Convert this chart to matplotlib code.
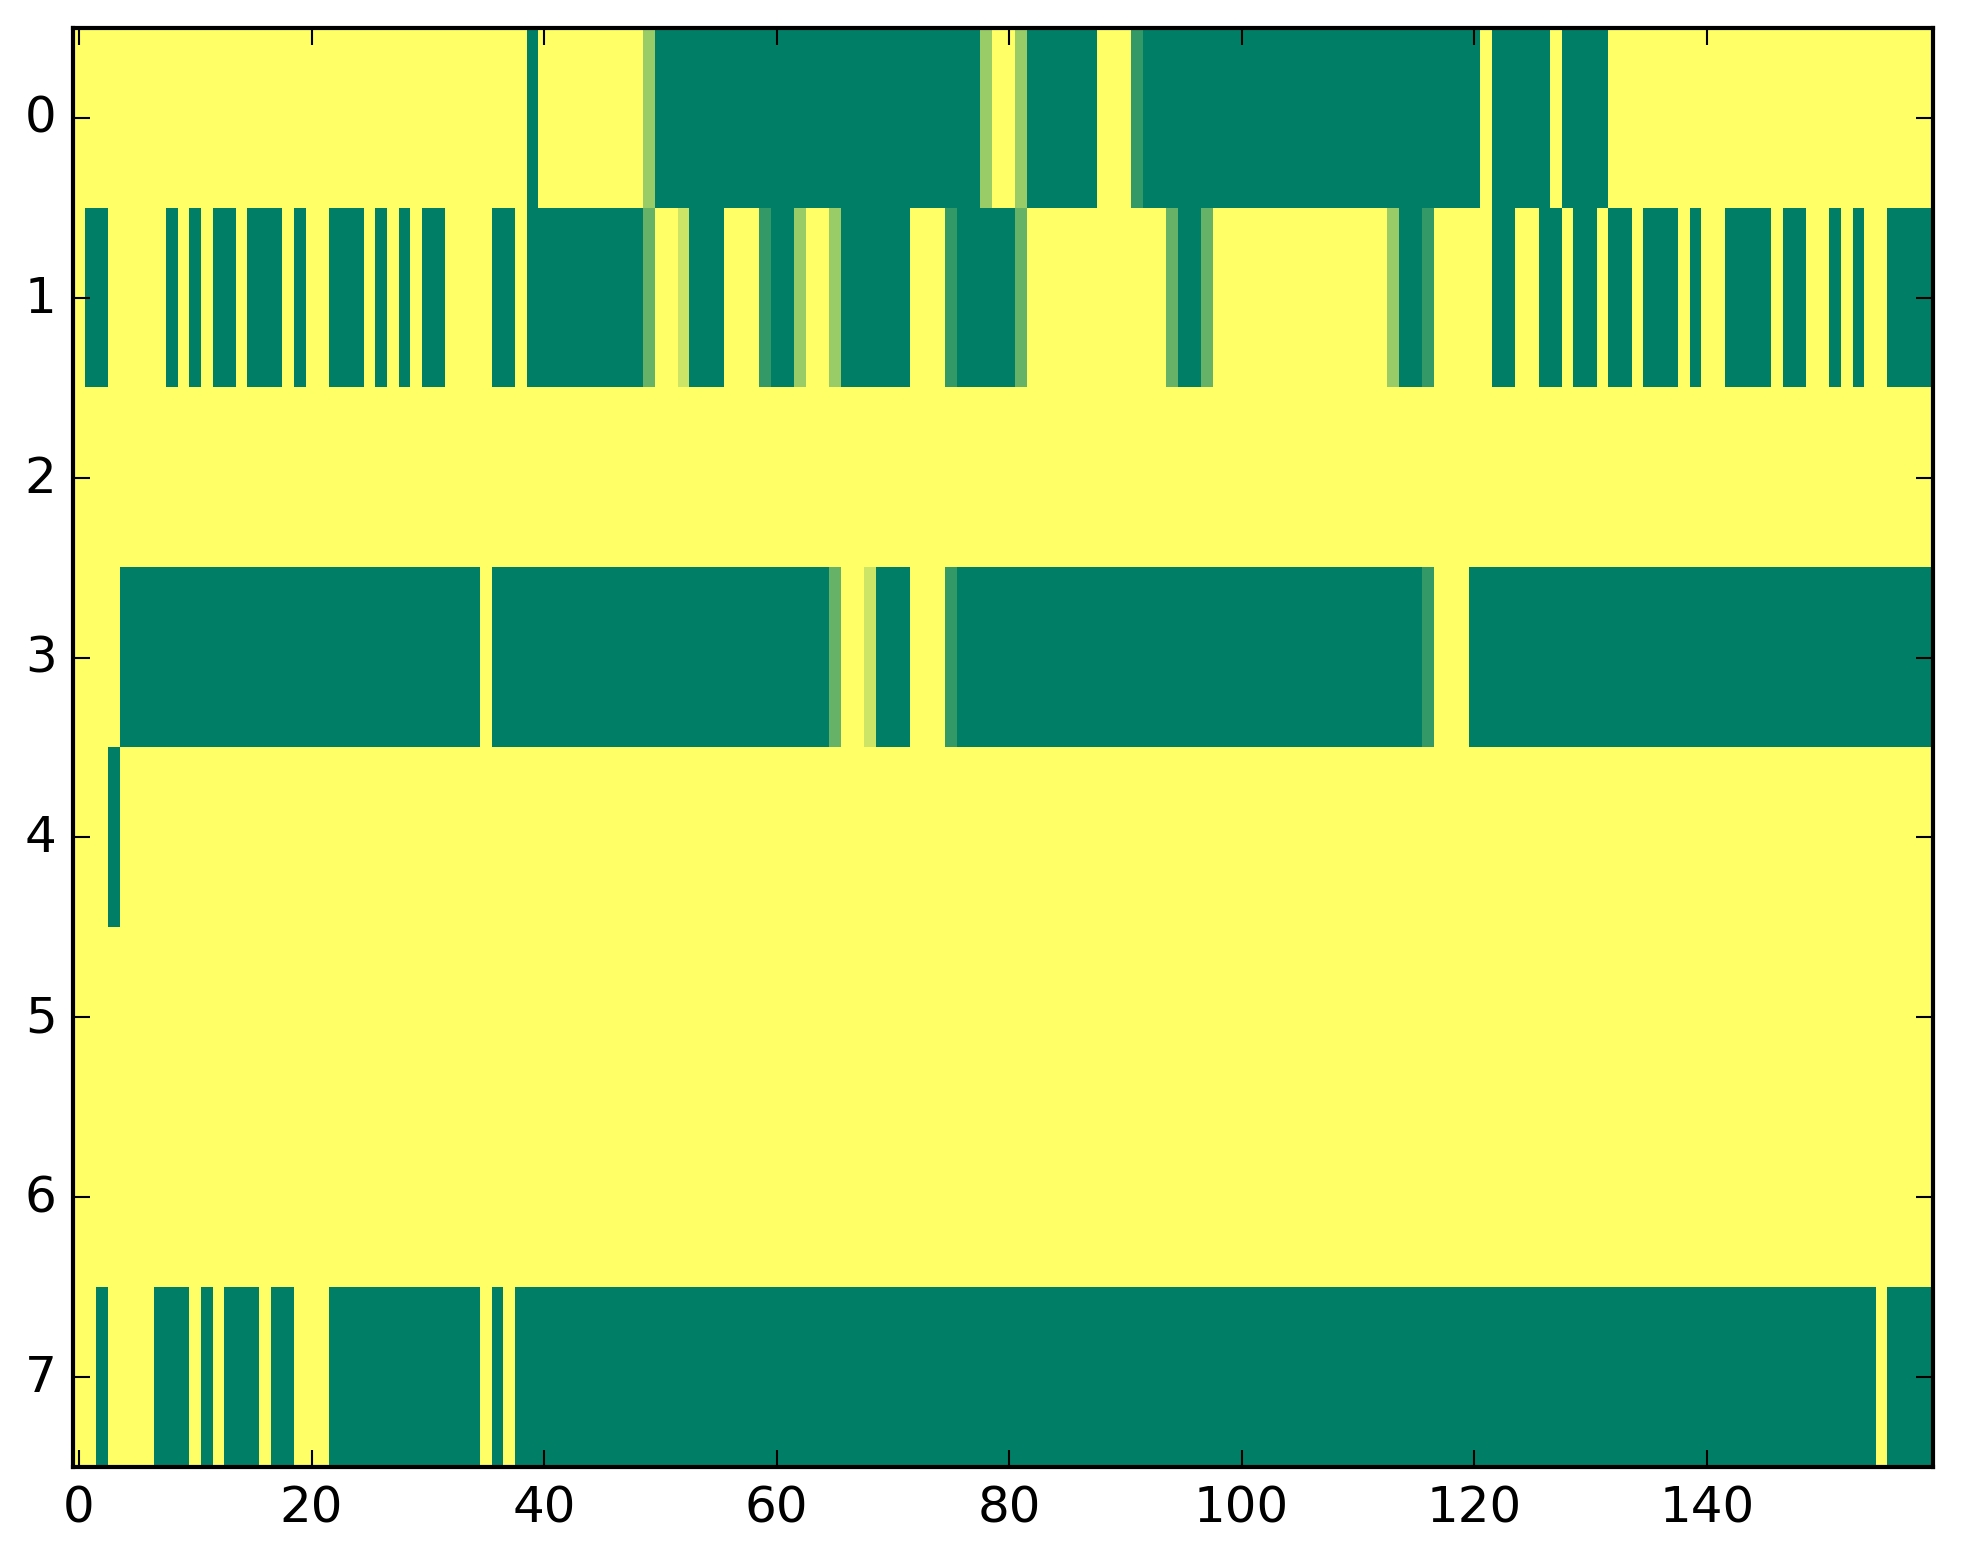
import matplotlib
matplotlib.use('Agg')
import matplotlib.pyplot as plt
import numpy as np

plt.style.use('classic')

# each row as (value, run length) pairs read left to right, 160 columns
row0 = [(1, 39), (0, 1), (1, 9), (0.6, 1), (0, 28), (0.6, 1), (1, 2), (0.6, 1),
        (0, 6), (1, 3), (0.2, 1), (0, 29), (1, 1), (0, 5), (1, 1), (0, 4), (1, 28)]
row1 = [(1, 1), (0, 2), (1, 5), (0, 1), (1, 1), (0, 1), (1, 1), (0, 2), (1, 1),
        (0, 3), (1, 1), (0, 1), (1, 2), (0, 3), (1, 1), (0, 1), (1, 1), (0, 1),
        (1, 1), (0, 2), (1, 4), (0, 2), (1, 1), (0, 10), (0.4, 1), (1, 2),
        (0.8, 1), (0, 3), (1, 3), (0.2, 1), (0, 2), (0.6, 1), (1, 2), (0.6, 1),
        (0, 6), (1, 3), (0.2, 1), (0, 5), (0.4, 1), (1, 12), (0.4, 1), (0, 2),
        (0.4, 1), (1, 15), (0.6, 1), (0, 2), (0.2, 1), (1, 5), (0, 2), (1, 2),
        (0, 2), (1, 1), (0, 2), (1, 1), (0, 2), (1, 1), (0, 3), (1, 1), (0, 1),
        (1, 2), (0, 4), (1, 1), (0, 2), (1, 2), (0, 1), (1, 1), (0, 1), (1, 2),
        (0, 4)]
row2 = [(1, 160)]
row3 = [(1, 4), (0, 31), (1, 1), (0, 29), (0.4, 1), (1, 2), (0.8, 1), (0, 3),
        (1, 3), (0.2, 1), (0, 40), (0.2, 1), (1, 3), (0, 40)]
row4 = [(1, 3), (0, 1), (1, 156)]
row5 = [(1, 160)]
row6 = [(1, 160)]
row7 = [(1, 2), (0, 1), (1, 4), (0, 3), (1, 1), (0, 1), (1, 1), (0, 3), (1, 1),
        (0, 2), (1, 3), (0, 13), (1, 1), (0, 1), (1, 1), (0, 117), (1, 1), (0, 4)]

rows = [row0, row1, row2, row3, row4, row5, row6, row7]


def expand(runs):
    out = []
    for v, n in runs:
        out += [v] * n
    return out


grid = np.array([expand(r) for r in rows])

fig = plt.figure(figsize=(1963 / 300, 1564 / 300), dpi=300, facecolor='white')
ax = fig.add_axes([73.2 / 1963, 96 / 1564, 1860.2 / 1963, 1439 / 1564])

ax.imshow(grid, cmap='summer', vmin=0, vmax=1, aspect='auto',
          interpolation='nearest')
ax.set_xticks(np.arange(0, 160, 20))
ax.set_yticks(np.arange(0, 8))
ax.set_xlim(-0.5, 159.5)
ax.set_ylim(7.5, -0.5)

fig.savefig('out.png', dpi=300, facecolor='white')
